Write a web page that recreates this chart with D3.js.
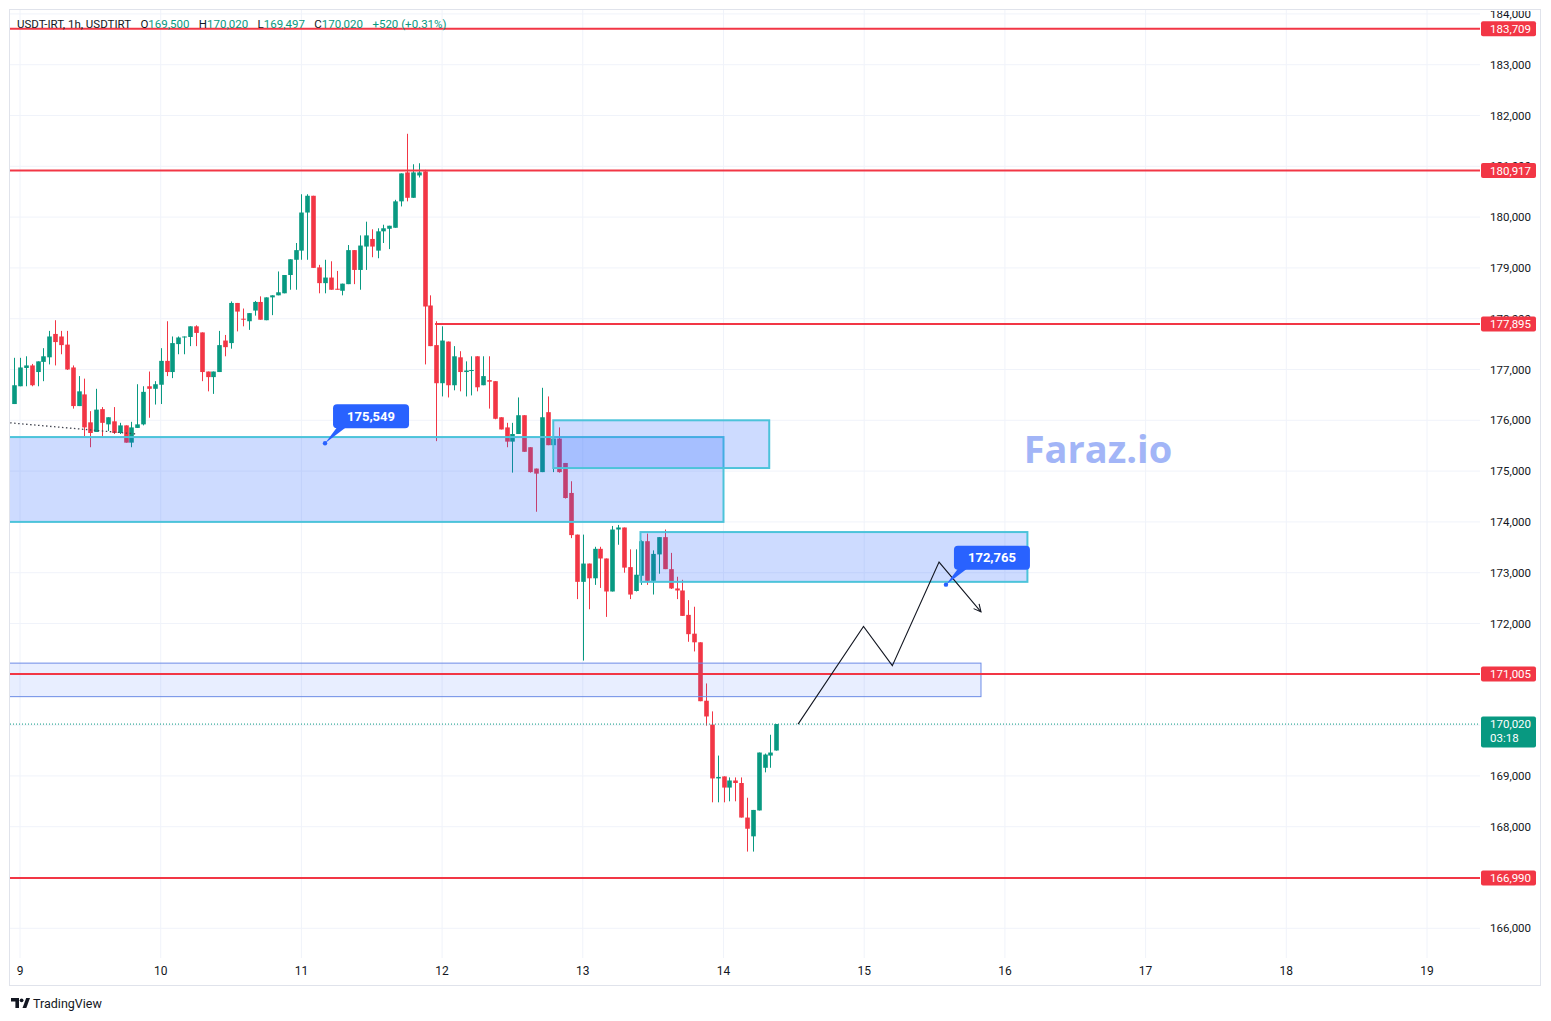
<!DOCTYPE html>
<html lang="en">
<head>
<meta charset="UTF-8">
<title>USDT-IRT, 1h</title>
<script src="https://d3js.org/d3.v7.min.js"></script>
<style>
  body { margin: 0; background: #fff; }
  svg { display: block; font-family: Roboto, "Liberation Sans", sans-serif; }
</style>
</head>
<body>
<div id="chart"></div>
<script>
// hourly candles, the first one opens on the 8th at 23:00
const firstCandleDay = 8 + 23 / 24;

const opens = [
  176320, 176670, 177030, 177080, 176950, 177150, 177240, 177700, 177650, 177490,
  177040, 176280, 176510, 175960, 175770, 176220, 175920, 175980, 175750, 175900,
  175560, 175850, 175920, 176670, 176620, 176700, 177170, 176950, 177500, 177630,
  177640, 177850, 177730, 176960, 176850, 176950, 177570, 177520, 178310, 178000,
  177950, 178160, 178330, 177970, 178420, 178460, 178500, 178860, 179160, 179340,
  180090, 180420, 179010, 178700, 178810, 178590, 178550, 178680, 179350, 178960,
  179420, 179570, 179340, 179720, 179770, 179790, 180310, 180880, 180380, 180820,
  180900, 178260, 177480, 176730, 177550, 176690, 177240, 176950, 176970, 177260,
  176690, 176790, 176770, 176060, 175860, 175580, 175730, 176100, 175470, 175050,
  174980, 176160, 175510, 175640, 175160, 174570, 173750, 172820, 173180, 172890,
  173470, 173280, 172630, 173850, 173890, 173110, 172640, 172940, 173620, 172840,
  173360, 173700, 173070, 172690, 172650, 172170, 171800, 171630, 170480, 170010,
  168950, 168990, 168770, 168910, 168860, 168180, 167810, 168320, 169160, 169400,
  169500
];
const highs = [
  177230, 177230, 177260, 177110, 177160, 177420, 177760, 177970, 177760, 177760,
  177080, 176870, 176820, 176180, 176620, 176260, 176060, 176260, 175950, 175900,
  175970, 176710, 176670, 176960, 176770, 177420, 177950, 177650, 177650, 177650,
  177850, 177870, 177730, 176960, 176960, 177760, 177680, 178340, 178310, 178200,
  178110, 178350, 178440, 178420, 178460, 178930, 178860, 179170, 179490, 180450,
  180450, 180420, 179060, 179160, 179130, 178940, 178690, 179450, 179350, 179640,
  179910, 179760, 179780, 179850, 179830, 180340, 180860, 181640, 181040, 181060,
  180930, 178460, 177950, 177850, 177550, 177460, 177360, 177160, 177260, 177260,
  177260, 177260, 176770, 176060, 175950, 175950, 176450, 176100, 175470, 175050,
  176640, 176470, 175970, 175860, 175160, 174800, 173750, 173750, 173180, 173510,
  173510, 173280, 173920, 173940, 173890, 173460, 173460, 173640, 173770, 173440,
  173700, 173850, 173390, 172920, 172860, 172460, 172330, 171630, 170820, 170270,
  169400, 168990, 168970, 168970, 168970, 168570, 168330, 169460, 169440, 169810,
  170020
];
const lows = [
  176320, 176670, 176670, 176670, 176670, 176770, 177100, 177080, 177300, 176990,
  176230, 176280, 175690, 175470, 175770, 175690, 175790, 175730, 175730, 175560,
  175470, 175850, 175900, 176050, 176310, 176320, 176870, 176830, 177300, 177300,
  177460, 177460, 176770, 176570, 176520, 176950, 177260, 177410, 177750, 177850,
  177780, 178060, 177980, 177970, 178070, 178460, 178500, 178570, 178570, 179160,
  179160, 179000, 178500, 178500, 178570, 178570, 178460, 178680, 178680, 178570,
  178960, 179210, 179190, 179490, 179370, 179790, 180210, 180310, 180380, 180780,
  177100, 177460, 175590, 176470, 176450, 176590, 176570, 176470, 176490, 176570,
  176690, 176230, 176020, 175820, 175470, 174970, 175730, 175380, 174970, 174200,
  174980, 175510, 174980, 174970, 174460, 173680, 172480, 171270, 172280, 172760,
  172700, 172130, 172630, 173550, 173000, 172480, 172630, 172760, 172760, 172570,
  172980, 173070, 172680, 172480, 172150, 171640, 171450, 170470, 169990, 168480,
  168480, 168480, 168500, 168500, 168180, 167510, 167510, 168320, 169070, 169160,
  169497
];
const closes = [
  176690, 177040, 177080, 176690, 177160, 177260, 177650, 177540, 177480, 177000,
  176280, 176570, 175860, 175750, 176210, 175950, 176060, 175750, 175900, 175560,
  175860, 175920, 176560, 176620, 176710, 177170, 176950, 177520, 177630, 177650,
  177850, 177720, 176950, 176850, 176960, 177480, 177440, 178310, 178140, 177980,
  178110, 178330, 177980, 178420, 178460, 178520, 178860, 179170, 179350, 180090,
  180420, 179000, 178700, 178810, 178570, 178570, 178690, 179350, 178960, 179440,
  179640, 179420, 179720, 179780, 179830, 180310, 180860, 180380, 180880, 180880,
  178240, 177460, 176730, 177570, 176690, 177260, 176950, 176980, 176990, 176650,
  176870, 176760, 176030, 175820, 175580, 175730, 176100, 175380, 174980, 174950,
  176060, 175510, 175640, 174980, 174470, 173740, 172820, 173180, 172890, 173470,
  173280, 172630, 173850, 173890, 173100, 172570, 172960, 173620, 172840, 173370,
  173700, 173070, 172690, 172650, 172150, 171790, 171630, 170470, 170170, 168950,
  168980, 168770, 168910, 168860, 168180, 167960, 168330, 169460, 169420, 169460,
  170020
];

const dayTicks = [9, 10, 11, 12, 13, 14, 15, 16, 17, 18, 19];
const priceTicks = [166000, 167000, 168000, 169000, 170000, 171000, 172000, 173000, 174000,
  175000, 176000, 177000, 178000, 179000, 180000, 181000, 182000, 183000, 184000];

// horizontal support / resistance levels (day where a level starts, null = whole chart)
const levelPrices = [183709, 180917, 177895, 171005, 166990];
const levelStarts = [null, null, 11.95, null, null];

// drawn zones, in days and prices
const zoneFrom = [8.5, 12.79, 13.41, 8.5];
const zoneTo = [14.0, 14.325, 16.16, 15.83];
const zoneLow = [174000, 175060, 172820, 170560];
const zoneHigh = [175670, 176000, 173800, 171220];
const zoneKind = ["box", "box", "box", "thin"];

// projected path
const pathDays = [14.53, 14.995, 15.2, 15.532, 15.83];
const pathPrices = [170020, 171940, 171170, 173210, 172230];

// dotted trend line at the left
const trendDays = [8.93, 9.83];
const trendPrices = [175950, 175730];

// price notes
const noteDays = [11.168, 15.581];
const notePrices = [175549, 172765];

const lastPrice = 170020;
const countdown = "03:18";
const change = "+520 (+0.31%)";

const green = "#089981", red = "#f23645", ink = "#131722";
const W = 1551, H = 1021;
const plot = { left: 10, right: 1480, top: 10, bottom: 958 };
const fmt = d3.format(",");

const x = d3.scaleLinear().domain([9, 19]).range([20, 1427]);
const y = d3.scaleLinear().domain([166000, 184000]).range([928.3, 13.9]);

const svg = d3.select("#chart").append("svg")
  .attr("width", W).attr("height", H);

const defs = svg.append("defs");
defs.append("clipPath").attr("id", "plotClip").append("rect")
  .attr("x", plot.left).attr("y", plot.top)
  .attr("width", plot.right - plot.left).attr("height", plot.bottom - plot.top);
defs.append("clipPath").attr("id", "axisClip").append("rect")
  .attr("x", plot.right).attr("y", plot.top + 1)
  .attr("width", 60).attr("height", plot.bottom - plot.top);
defs.append("marker").attr("id", "arrow")
  .attr("viewBox", "0 0 10 10").attr("refX", 9).attr("refY", 5)
  .attr("markerWidth", 9).attr("markerHeight", 9)
  .attr("markerUnits", "userSpaceOnUse").attr("orient", "auto")
  .append("path").attr("d", "M1,1 L9,5 L1,9")
  .attr("fill", "none").attr("stroke", ink).attr("stroke-width", 1.2);

const g = svg.append("g").attr("clip-path", "url(#plotClip)");

// grid
g.selectAll(".vgrid").data(dayTicks).enter().append("line")
  .attr("x1", d => x(d)).attr("x2", d => x(d))
  .attr("y1", plot.top).attr("y2", plot.bottom)
  .attr("stroke", "#f0f3fa").attr("stroke-width", 1);
g.selectAll(".hgrid").data(priceTicks).enter().append("line")
  .attr("x1", plot.left).attr("x2", plot.right)
  .attr("y1", d => y(d)).attr("y2", d => y(d))
  .attr("stroke", "#f0f3fa").attr("stroke-width", 1);

// candles
const candles = opens.map((o, i) => ({
  t: firstCandleDay + i / 24, o, h: highs[i], l: lows[i], c: closes[i]
}));
const bodyW = 4.6;
const cg = g.append("g");
cg.selectAll(".wick").data(candles).enter().append("line")
  .attr("x1", d => Math.round(x(d.t)) + 0.5).attr("x2", d => Math.round(x(d.t)) + 0.5)
  .attr("y1", d => y(d.h)).attr("y2", d => y(d.l))
  .attr("stroke", d => d.c >= d.o ? green : red).attr("stroke-width", 1);
cg.selectAll(".body").data(candles).enter().append("rect")
  .attr("x", d => Math.round(x(d.t)) + 0.5 - bodyW / 2)
  .attr("y", d => y(Math.max(d.o, d.c)))
  .attr("width", bodyW)
  .attr("height", d => Math.max(1, Math.abs(y(d.o) - y(d.c))))
  .attr("fill", d => d.c >= d.o ? green : red);

// current price line
g.append("line")
  .attr("x1", plot.left).attr("x2", plot.right)
  .attr("y1", y(lastPrice)).attr("y2", y(lastPrice))
  .attr("stroke", green).attr("stroke-width", 1).attr("stroke-dasharray", "1,2");

// zones
zoneFrom.forEach((f, i) => {
  const thin = zoneKind[i] === "thin";
  g.append("rect")
    .attr("x", x(f)).attr("y", y(zoneHigh[i]))
    .attr("width", x(zoneTo[i]) - x(f))
    .attr("height", y(zoneLow[i]) - y(zoneHigh[i]))
    .attr("fill", thin ? "rgba(41,98,255,0.11)" : "rgba(41,98,255,0.23)")
    .attr("stroke", thin ? "#6c8be6" : "#4cc3da")
    .attr("stroke-width", thin ? 1 : 2);
});

// levels
levelPrices.forEach((p, i) => {
  g.append("line")
    .attr("x1", levelStarts[i] === null ? plot.left : x(levelStarts[i]))
    .attr("x2", plot.right)
    .attr("y1", y(p)).attr("y2", y(p))
    .attr("stroke", red).attr("stroke-width", 2);
});

// dotted trend line
g.append("line")
  .attr("x1", x(trendDays[0])).attr("y1", y(trendPrices[0]))
  .attr("x2", x(trendDays[1])).attr("y2", y(trendPrices[1]))
  .attr("stroke", "#434651").attr("stroke-width", 1.3).attr("stroke-dasharray", "1.5,2.5");

// projected path
g.append("path")
  .datum(pathDays.map((d, i) => [d, pathPrices[i]]))
  .attr("d", d3.line().x(d => x(d[0])).y(d => y(d[1])))
  .attr("fill", "none").attr("stroke", ink).attr("stroke-width", 1.1)
  .attr("marker-end", "url(#arrow)");

// watermark
g.append("text")
  .attr("x", 1098).attr("y", 463)
  .attr("text-anchor", "middle")
  .style("font-family", "'Open Sans', sans-serif")
  .style("font-weight", 700).style("font-size", "38px")
  .attr("fill", "#a2b5f7")
  .text("Faraz.io");

// price notes
noteDays.forEach((d, i) => {
  const px = x(d), py = y(notePrices[i]);
  const bx = px + 8, by = py - 39, bw = 76, bh = 24;
  g.append("path")
    .attr("d", `M${px},${py} L${bx + 4},${by + bh - 1} L${bx + 13},${by + bh - 1} Z`)
    .attr("fill", "#2962ff");
  g.append("rect")
    .attr("x", bx).attr("y", by).attr("width", bw).attr("height", bh)
    .attr("rx", 4).attr("fill", "#2962ff");
  g.append("circle").attr("cx", px).attr("cy", py).attr("r", 2.2).attr("fill", "#2962ff");
  g.append("text")
    .attr("x", bx + bw / 2).attr("y", by + bh / 2 + 4.5)
    .attr("text-anchor", "middle")
    .style("font-size", "13px").style("font-weight", 700)
    .attr("fill", "#fff").text(fmt(notePrices[i]));
});

// price axis
const ax = svg.append("g").attr("clip-path", "url(#axisClip)");
ax.selectAll(".ptick").data(priceTicks).enter().append("text")
  .attr("x", 1490).attr("y", d => y(d) + 4)
  .style("font-size", "11.5px").attr("fill", ink)
  .text(d => fmt(d));

levelPrices.forEach(p => {
  ax.append("rect")
    .attr("x", 1481).attr("y", y(p) - 7.5).attr("width", 55).attr("height", 15)
    .attr("rx", 2).attr("fill", red);
  ax.append("text")
    .attr("x", 1490).attr("y", y(p) + 4)
    .style("font-size", "11.5px").attr("fill", "#fff")
    .text(fmt(p));
});

ax.append("rect")
  .attr("x", 1481).attr("y", y(lastPrice) - 7.5).attr("width", 55).attr("height", 31)
  .attr("rx", 2).attr("fill", green);
ax.append("text")
  .attr("x", 1490).attr("y", y(lastPrice) + 4)
  .style("font-size", "11.5px").attr("fill", "#fff").text(fmt(lastPrice));
ax.append("text")
  .attr("x", 1490).attr("y", y(lastPrice) + 18)
  .style("font-size", "11.5px").attr("fill", "#fff").text(countdown);

// time axis
svg.append("g").selectAll(".ttick").data(dayTicks).enter().append("text")
  .attr("x", d => x(d)).attr("y", 975)
  .attr("text-anchor", "middle")
  .style("font-size", "12px").attr("fill", ink)
  .text(d => d);

// frame
svg.append("rect")
  .attr("x", 9.5).attr("y", 9.5).attr("width", 1531).attr("height", 976)
  .attr("fill", "none").attr("stroke", "#e0e3eb");

// legend line
const last = candles[candles.length - 1];
const parts = [
  ["USDT-IRT, 1h, USDTIRT", ink, 0],
  ["O", ink, 9.5], [fmt(last.o), green, 0],
  ["H", ink, 9.5], [fmt(last.h), green, 0],
  ["L", ink, 9.5], [fmt(last.l), green, 0],
  ["C", ink, 9.5], [fmt(last.c), green, 0],
  [change, green, 9.5]
];
const legend = svg.append("text").attr("x", 17).attr("y", 28)
  .style("font-size", "11.5px");
parts.forEach(p => {
  legend.append("tspan").attr("dx", p[2]).attr("fill", p[1]).text(p[0]);
});

// TradingView mark
const logo = svg.append("g").attr("fill", ink);
logo.append("path").attr("d", "M11,998 h8 v10 h-3.6 v-6.6 h-4.4 z");
logo.append("circle").attr("cx", 21.6).attr("cy", 1000.3).attr("r", 1.9);
logo.append("path").attr("d", "M22.5,1008 L26.2,998 L30,998 L26.3,1008 z");
svg.append("text").attr("x", 33).attr("y", 1007.5)
  .style("font-size", "12.5px").attr("fill", ink).text("TradingView");
</script>
</body>
</html>
